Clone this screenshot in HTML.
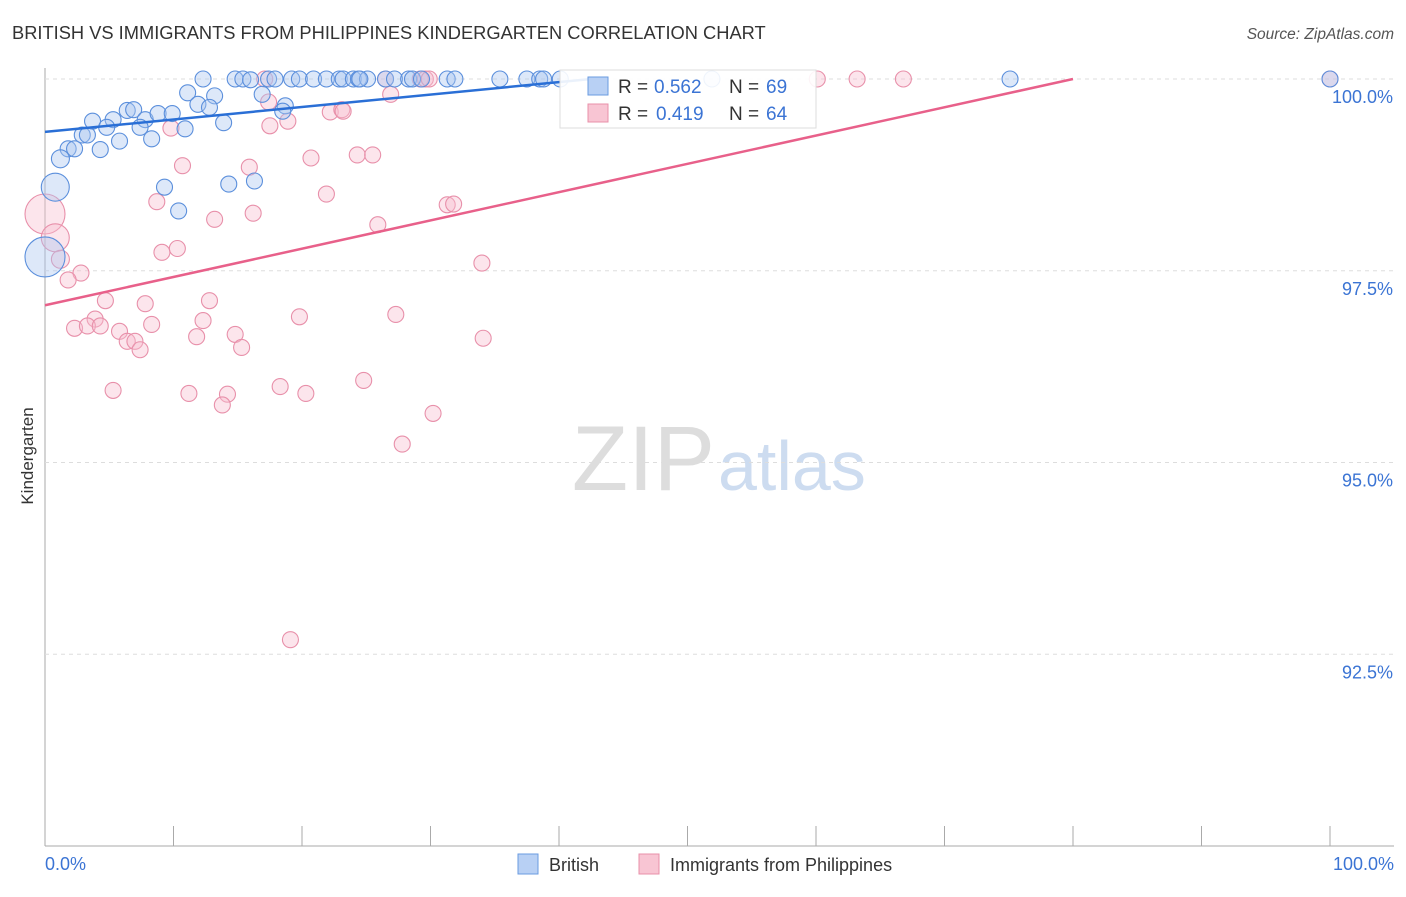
<!DOCTYPE html>
<html><head><meta charset="utf-8"><style>
body{margin:0;background:#fff;font-family:"Liberation Sans",sans-serif}
svg text{font-family:"Liberation Sans",sans-serif}
</style></head><body>
<svg id="c" width="1406" height="892">
<text x="12" y="39" font-size="18.3" fill="#333">BRITISH VS IMMIGRANTS FROM PHILIPPINES KINDERGARTEN CORRELATION CHART</text>
<text x="1394" y="39" font-size="15.5" fill="#555" font-style="italic" text-anchor="end">Source: ZipAtlas.com</text>
<text x="715" y="490" font-size="92" fill="#ddd" text-anchor="end" font-family="Liberation Serif">ZIP</text>
<text x="718" y="490" font-size="70" fill="#cddcf0">atlas</text>
<text x="33" y="456" font-size="17" fill="#333" transform="rotate(-90 33 456)" text-anchor="middle">Kindergarten</text>
<g id="grid"></g><g id="pts"></g><g id="lines"></g>
<g>
<rect x="560" y="70" width="256" height="58" fill="#fff" fill-opacity="0.9" stroke="#ddd"/>
<rect x="588" y="77" width="20" height="18" fill="#b8d0f4" stroke="#6a9be0"/>
<text y="93" font-size="19" fill="#333"><tspan x="618">R =</tspan><tspan x="654" fill="#3b74d4">0.562</tspan><tspan x="729">N =</tspan><tspan x="766" fill="#3b74d4">69</tspan></text>
<rect x="588" y="104" width="20" height="18" fill="#f8c5d3" stroke="#e890aa"/>
<text y="120" font-size="19" fill="#333"><tspan x="618">R =</tspan><tspan x="656" fill="#3b74d4">0.419</tspan><tspan x="729">N =</tspan><tspan x="766" fill="#3b74d4">64</tspan></text>
</g>
<g>
<rect x="518" y="854" width="20" height="20" fill="#b8d0f4" stroke="#6a9be0"/>
<text x="549" y="871" font-size="18" fill="#333">British</text>
<rect x="639" y="854" width="20" height="20" fill="#f8c5d3" stroke="#e890aa"/>
<text x="670" y="871" font-size="18" fill="#333">Immigrants from Philippines</text>
</g>
</svg>
<script>
const xTicks=[0,10,20,30,40,50,60,70,80,90,100];
const yTicks=[100,97.5,95,92.5];
const yTickLabels=["100.0%","97.5%","95.0%","92.5%"];
const britishX=[12.3,14.8,15.4,17.4,17.9,19.2,19.8,20.9,21.9,22.9,23.2,24.0,24.4,25.1,26.5,27.2,28.3,28.6,29.3,31.3,31.9,35.4,37.5,38.5,38.8,40.1,51.9,75.1,100,11.1,13.2,16.9,11.9,12.8,18.7,18.5,3.7,5.3,6.4,6.9,7.8,8.8,9.9,7.4,4.8,5.8,8.3,10.9,13.9,2.9,3.3,1.8,2.3,4.3,1.2,0.8,9.3,14.3,16.3,10.4,0,16.0,24.5];
const britishY=[100,100,100,100,100,100,100,100,100,100,100,100,100,100,100,100,100,100,100,100,100,100,100,100,100,100,100,100,100,99.82,99.78,99.80,99.67,99.63,99.65,99.58,99.45,99.47,99.59,99.60,99.47,99.55,99.55,99.37,99.37,99.19,99.22,99.35,99.43,99.27,99.27,99.09,99.09,99.08,98.96,98.59,98.59,98.63,98.67,98.28,97.68,99.99,100];
const britishR=[8,8,8,8,8,8,8,8,8,8,8,8,8,8,8,8,8,8,8,8,8,8,8,8,8,8,8,8,8,8,8,8,8,8,8,8,8,8,8,8,8,8,8,8,8,8,8,8,8,8,8,8,8,8,9,14,8,8,8,8,20,8,8];
const philX=[17.1,26.5,29.2,29.6,29.9,60.1,63.2,66.8,100,26.9,22.2,23.1,23.2,17.4,18.9,17.5,9.8,10.7,15.9,20.7,24.3,25.5,21.9,8.7,13.2,16.2,25.9,31.3,31.8,0,0.8,1.2,9.1,10.3,2.8,1.8,34.0,4.7,7.8,12.8,19.8,27.3,3.9,2.3,3.3,4.3,8.3,12.3,5.8,6.4,7.0,7.4,11.8,14.8,15.3,34.1,18.3,24.8,5.3,11.2,14.2,13.8,20.3,30.2,27.8,19.1];
const philY=[100,100,100,100,100,100,100,100,100,99.80,99.57,99.60,99.58,99.70,99.45,99.39,99.36,98.87,98.85,98.97,99.01,99.01,98.50,98.40,98.17,98.25,98.10,98.36,98.37,98.24,97.93,97.65,97.74,97.79,97.47,97.38,97.60,97.11,97.07,97.11,96.90,96.93,96.87,96.75,96.78,96.78,96.80,96.85,96.71,96.58,96.58,96.47,96.64,96.67,96.50,96.62,95.99,96.07,95.94,95.90,95.89,95.75,95.90,95.64,95.24,92.69];
const philR=[8,8,8,8,8,8,8,8,8,8,8,8,8,8,8,8,8,8,8,8,8,8,8,8,8,8,8,8,8,20,14,9,8,8,8,8,8,8,8,8,8,8,8,8,8,8,8,8,8,8,8,8,8,8,8,8,8,8,8,8,8,8,8,8,8,8];
const britishTrend=[[0,99.31],[42.5,100]];
const philTrend=[[0,97.05],[80,100]];
const X=v=>45+v*12.85, Y=v=>79+(100-v)*76.7;
const NS="http://www.w3.org/2000/svg";
function mk(t,a,p){const e=document.createElementNS(NS,t);for(const k in a)e.setAttribute(k,a[k]);p.appendChild(e);return e;}
const g=document.getElementById('grid');
const ax=mk('line',{x1:45,y1:68,x2:45,y2:846,stroke:'#aaa'},g);


const bx=mk('line',{x1:45,y1:846,x2:1394,y2:846,stroke:'#aaa'},g);


yTicks.forEach((v,i)=>{
 const l=mk('line',{x1:45,y1:Y(v),x2:1394,y2:Y(v),stroke:'#ddd','stroke-dasharray':'4,4'},g);
 
 
 const t=mk('text',{x:1393,y:Y(v)+24,'font-size':18,fill:'#3b74d4','text-anchor':'end'},g);
 t.textContent=yTickLabels[i];
 
 
});
xTicks.forEach(v=>{
 const l=mk('line',{x1:X(v),y1:826,x2:X(v),y2:846,stroke:'#aaa'},g);
 
 
});
[[0,'0.0%','start',45],[100,'100.0%','end',1394]].forEach(a=>{
 const t=mk('text',{x:a[3],y:870,'font-size':18,fill:'#3b74d4','text-anchor':a[2]},g);
 t.textContent=a[1];
 
 
});
const p=document.getElementById('pts');
philX.forEach((v,i)=>{
 const c=mk('circle',{cx:X(v),cy:Y(philY[i]),r:philR[i],fill:'#f8bfd0','fill-opacity':0.4,stroke:'#e890aa','stroke-width':1.1},p);
 
 
});
britishX.forEach((v,i)=>{
 const c=mk('circle',{cx:X(v),cy:Y(britishY[i]),r:britishR[i],fill:'#a9c6f0','fill-opacity':0.4,stroke:'#5b8fdc','stroke-width':1.1},p);
 
 
});
const L=document.getElementById('lines');
const b=mk('line',{x1:X(britishTrend[0][0]),y1:Y(britishTrend[0][1]),x2:X(britishTrend[1][0]),y2:Y(britishTrend[1][1]),stroke:'#2a6fd6','stroke-width':2.5},L);


const q=mk('line',{x1:X(philTrend[0][0]),y1:Y(philTrend[0][1]),x2:X(philTrend[1][0]),y2:Y(philTrend[1][1]),stroke:'#e8608a','stroke-width':2.5},L);


</script>
</body></html>
